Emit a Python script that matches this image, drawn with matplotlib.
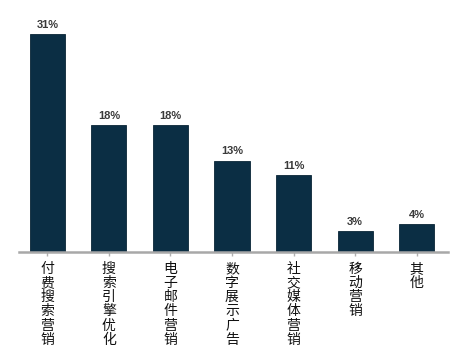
import numpy as np
import matplotlib.pyplot as plt

plt.rcParams['font.family'] = ['Noto Sans CJK SC', 'DejaVu Sans']

categories = ['付费搜索营销', '搜索引擎优化', '电子邮件营销', '数字展示广告',
              '社交媒体营销', '移动营销', '其他']
values = [31, 18, 18, 13, 11, 3, 4]

fig = plt.figure(figsize=(4.64, 3.57), dpi=100)
ax = fig.add_axes([0.041, 0.294, 0.9245, 0.65])

x = np.arange(len(categories))
bars = ax.bar(x, values, width=0.57, color='#0b2e44', edgecolor='#0a2536', linewidth=0.6)

for xi, v in zip(x, values):
    ax.annotate(f'{v}%', (xi, v), xytext=(0, 3), textcoords='offset points',
                ha='center', va='bottom', fontsize=8, fontweight='bold',
                color='#3a3a3a', family=['Liberation Sans', 'DejaVu Sans'])

ax.set_xlim(-0.46, 6.51)
ax.set_ylim(0, 33)
ax.set_xticks(x)
ax.set_xticklabels(['\n'.join(c) for c in categories], fontsize=10,
                   va='top', linespacing=1.02, color='#111111')
ax.tick_params(axis='x', length=3, color='#b0b0b0', width=1, pad=4)
ax.set_yticks([])
for s in ['top', 'right', 'left']:
    ax.spines[s].set_visible(False)
ax.spines['bottom'].set_color('#a8a8a8')
ax.spines['bottom'].set_linewidth(1.8)

fig.savefig('out.png', dpi=100)
